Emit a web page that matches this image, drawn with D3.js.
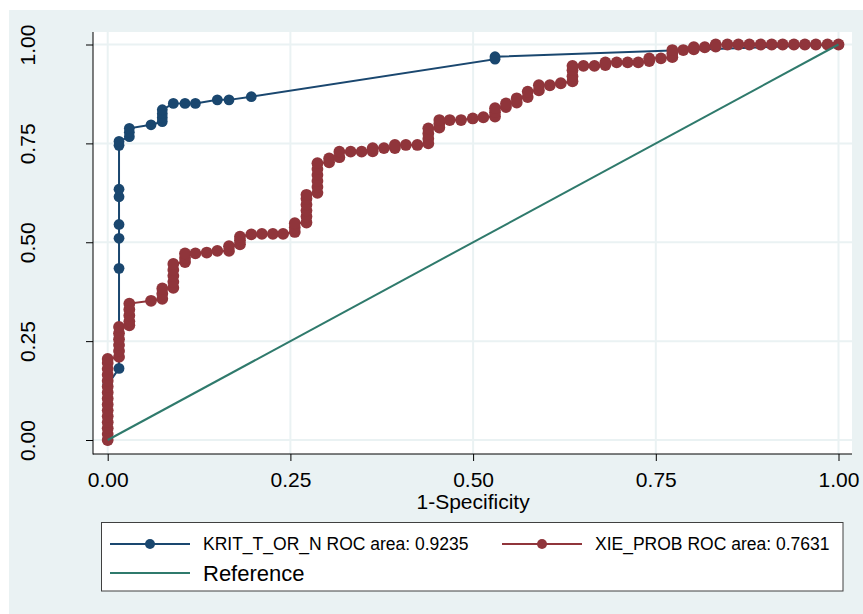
<!DOCTYPE html>
<html>
<head>
<meta charset="utf-8">
<script src="https://cdn.jsdelivr.net/npm/d3@7"></script>
<style>
body { margin: 0; background: #fff; }
text { font-family: "Liberation Sans", Arial, sans-serif; fill: #000; }
</style>
</head>
<body>
<svg id="chart" width="863" height="614"></svg>
<script>
// ROC points, [1-specificity, sensitivity]
var kritPoints = [
    [0, 0], [0, 0.14], [0.0155, 0.181], [0.0155, 0.434], [0.0155, 0.510], [0.0155, 0.545],
    [0.0155, 0.615], [0.0155, 0.634], [0.0155, 0.745], [0.0155, 0.755],
    [0.0296, 0.767], [0.0296, 0.778], [0.0296, 0.788], [0.0593, 0.797],
    [0.0747, 0.805], [0.0747, 0.815], [0.0747, 0.825], [0.0747, 0.835],
    [0.0898, 0.851], [0.1058, 0.851], [0.120, 0.851], [0.150, 0.860], [0.166, 0.860],
    [0.1965, 0.868], [0.530, 0.963], [0.530, 0.969], [1, 1]
];

var xiePoints = [
    [0, 0], [0, 0.015], [0, 0.03], [0, 0.045], [0, 0.06], [0, 0.075], [0, 0.09], [0, 0.105],
    [0, 0.12], [0, 0.135], [0, 0.15], [0, 0.165], [0, 0.18], [0, 0.195], [0, 0.205],
    [0.0155, 0.21], [0.0155, 0.225], [0.0155, 0.24], [0.0155, 0.255], [0.0155, 0.27], [0.0155, 0.286],
    [0.0296, 0.29], [0.0296, 0.30], [0.0296, 0.315], [0.0296, 0.33], [0.0296, 0.345],
    [0.0593, 0.352],
    [0.0747, 0.357], [0.0747, 0.37], [0.0747, 0.383],
    [0.0898, 0.385], [0.0898, 0.40], [0.0898, 0.415], [0.0898, 0.43], [0.0898, 0.445],
    [0.1058, 0.45], [0.1058, 0.46], [0.1058, 0.472],
    [0.120, 0.472], [0.1355, 0.474], [0.150, 0.478],
    [0.166, 0.478], [0.166, 0.49],
    [0.181, 0.495], [0.181, 0.505], [0.181, 0.514],
    [0.1965, 0.52], [0.211, 0.521], [0.226, 0.521], [0.240, 0.521],
    [0.256, 0.526], [0.256, 0.537], [0.256, 0.548],
    [0.272, 0.55], [0.272, 0.565], [0.272, 0.58], [0.272, 0.595], [0.272, 0.61], [0.272, 0.62],
    [0.287, 0.625], [0.287, 0.64], [0.287, 0.655], [0.287, 0.67], [0.287, 0.685], [0.287, 0.70],
    [0.303, 0.702], [0.303, 0.712],
    [0.317, 0.715], [0.317, 0.729],
    [0.3325, 0.729], [0.3475, 0.729],
    [0.3626, 0.73], [0.3626, 0.738], [0.378, 0.738],
    [0.393, 0.738], [0.393, 0.746], [0.408, 0.746], [0.4237, 0.746],
    [0.4387, 0.75], [0.4387, 0.762], [0.4387, 0.775], [0.4387, 0.788],
    [0.4538, 0.79], [0.4538, 0.80], [0.4538, 0.809],
    [0.468, 0.809], [0.4835, 0.809], [0.4995, 0.813], [0.514, 0.816],
    [0.530, 0.818], [0.530, 0.829], [0.530, 0.839],
    [0.545, 0.842], [0.545, 0.851],
    [0.5597, 0.853], [0.5597, 0.864],
    [0.5747, 0.867], [0.5747, 0.881],
    [0.590, 0.884], [0.590, 0.897],
    [0.605, 0.897], [0.620, 0.902],
    [0.636, 0.907], [0.636, 0.92], [0.636, 0.935], [0.636, 0.946],
    [0.651, 0.946], [0.666, 0.946],
    [0.681, 0.948], [0.681, 0.955],
    [0.6965, 0.955], [0.7115, 0.955], [0.726, 0.955],
    [0.741, 0.958], [0.741, 0.965], [0.757, 0.965],
    [0.7726, 0.968], [0.7726, 0.977], [0.7726, 0.986],
    [0.7876, 0.986], [0.802, 0.988], [0.802, 0.993], [0.817, 0.993],
    [0.832, 0.995], [0.832, 1.0],
    [0.848, 1.0], [0.863, 1.0], [0.878, 1.0], [0.8935, 1.0], [0.9086, 1.0], [0.9236, 1.0],
    [0.939, 1.0], [0.954, 1.0], [0.969, 1.0], [0.985, 1.0], [1.0, 1.0]
];

var refPoints = [[0, 0], [1, 1]];

var xTicks = [0, 0.25, 0.5, 0.75, 1];
var yTicks = [0, 0.25, 0.5, 0.75, 1];
var xTitle = "1-Specificity";
var legendLabels = ["KRIT_T_OR_N ROC area: 0.9235", "XIE_PROB ROC area: 0.7631", "Reference"];

var navy = "#1a476f", maroon = "#90353b", teal = "#2f7a6c";
var bgColor = "#eaf2f3";

var svg = d3.select("#chart");

// outer graph region and white plot region
svg.append("rect").attr("x", 9).attr("y", 10).attr("width", 854).attr("height", 604).attr("fill", bgColor);
var plotLeft = 93, plotRight = 852, plotTop = 32, plotBottom = 454;
svg.append("rect")
    .attr("x", plotLeft).attr("y", plotTop)
    .attr("width", plotRight - plotLeft).attr("height", plotBottom - plotTop)
    .attr("fill", "#fff");

var x_scale = d3.scaleLinear().domain([0, 1]).range([107.7, 838.5]);
var y_scale = d3.scaleLinear().domain([0, 1]).range([440, 44.5]);

// grid
svg.selectAll("line.vgrid")
    .data(xTicks)
    .enter()
    .append("line")
    .attr("class", "vgrid")
    .attr("x1", function(d) { return x_scale(d); })
    .attr("x2", function(d) { return x_scale(d); })
    .attr("y1", plotTop).attr("y2", plotBottom)
    .attr("stroke", bgColor).attr("stroke-width", 2);
svg.selectAll("line.hgrid")
    .data(yTicks)
    .enter()
    .append("line")
    .attr("class", "hgrid")
    .attr("x1", plotLeft).attr("x2", plotRight)
    .attr("y1", function(d) { return y_scale(d); })
    .attr("y2", function(d) { return y_scale(d); })
    .attr("stroke", bgColor).attr("stroke-width", 2);

// axes
var fmt = d3.format(".2f");
var xAxis = svg.append("g")
    .attr("transform", "translate(0," + plotBottom + ")")
    .call(d3.axisBottom(x_scale).tickValues(xTicks).tickFormat(fmt).tickSize(7).tickPadding(11));
var yAxis = svg.append("g")
    .attr("transform", "translate(" + plotLeft + ",0)")
    .call(d3.axisLeft(y_scale).tickValues(yTicks).tickFormat(fmt).tickSize(7));

[xAxis, yAxis].forEach(function(g) {
    g.select(".domain").remove();
    g.selectAll(".tick line").attr("stroke", "#000");
    g.selectAll("text").style("font-size", "21px").attr("fill", "#000");
});
yAxis.selectAll(".tick text")
    .attr("x", 0).attr("dy", null)
    .attr("text-anchor", "middle")
    .attr("transform", "translate(-58,0) rotate(-90)");

svg.append("line").attr("x1", plotLeft).attr("x2", plotLeft)
    .attr("y1", plotTop).attr("y2", plotBottom + 0.5).attr("stroke", "#000");
svg.append("line").attr("x1", plotLeft).attr("x2", plotRight)
    .attr("y1", plotBottom).attr("y2", plotBottom).attr("stroke", "#000");

svg.append("text")
    .attr("x", x_scale(0.5)).attr("y", 509)
    .attr("text-anchor", "middle")
    .style("font-size", "21px")
    .text(xTitle);

// curves
var line = d3.line()
    .x(function(d) { return x_scale(d[0]); })
    .y(function(d) { return y_scale(d[1]); });

function drawCurve(points, color, r) {
    svg.append("path")
        .datum(points)
        .attr("d", line)
        .attr("fill", "none")
        .attr("stroke", color)
        .attr("stroke-width", 2);
    svg.append("g")
        .selectAll("circle")
        .data(points)
        .enter()
        .append("circle")
        .attr("cx", function(d) { return x_scale(d[0]); })
        .attr("cy", function(d) { return y_scale(d[1]); })
        .attr("r", r)
        .attr("fill", color);
}

drawCurve(kritPoints, navy, 5.4);
drawCurve(xiePoints, maroon, 5.9);

svg.append("path")
    .datum(refPoints)
    .attr("d", line)
    .attr("fill", "none")
    .attr("stroke", teal)
    .attr("stroke-width", 2);

// legend
var legend = svg.append("g");
legend.append("rect")
    .attr("x", 101.5).attr("y", 522.5)
    .attr("width", 741.5).attr("height", 68.5)
    .attr("fill", "#fff").attr("stroke", "#404040").attr("stroke-width", 1);

var legendItems = [
    {x: 110, y: 544, color: navy, marker: true, size: "17.5px", label: legendLabels[0]},
    {x: 502, y: 544, color: maroon, marker: true, size: "17.5px", label: legendLabels[1]},
    {x: 110, y: 573, color: teal, marker: false, size: "22px", label: legendLabels[2]}
];

legendItems.forEach(function(it) {
    legend.append("line")
        .attr("x1", it.x).attr("x2", it.x + 80)
        .attr("y1", it.y).attr("y2", it.y)
        .attr("stroke", it.color).attr("stroke-width", 2);
    if (it.marker) {
        legend.append("circle")
            .attr("cx", it.x + 40).attr("cy", it.y).attr("r", 5)
            .attr("fill", it.color);
    }
    legend.append("text")
        .attr("x", it.x + 93).attr("y", it.y)
        .attr("dy", "0.36em")
        .style("font-size", it.size)
        .text(it.label);
});
</script>
</body>
</html>
